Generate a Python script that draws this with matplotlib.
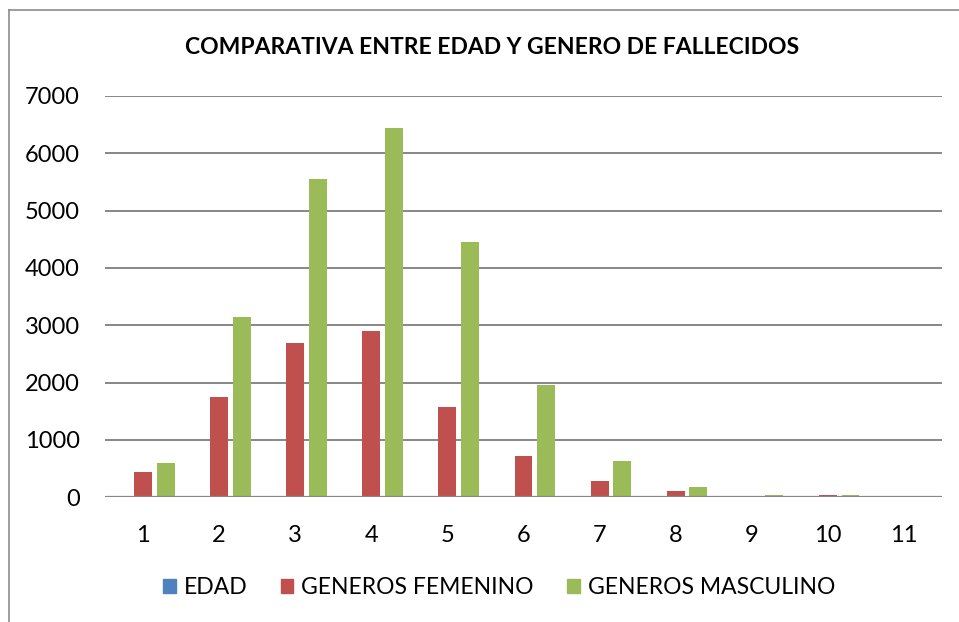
import matplotlib
matplotlib.use("Agg")
import matplotlib.pyplot as plt
from matplotlib.lines import Line2D
import numpy as np

categories = ["1", "2", "3", "4", "5", "6", "7", "8", "9", "10", "11"]
edad = [0, 0, 0, 0, 0, 0, 0, 0, 0, 0, 0]
femenino = [447, 1744, 2686, 2895, 1570, 720, 280, 105, 5, 35, 0]
masculino = [598, 3140, 5547, 6436, 4450, 1960, 633, 175, 35, 35, 0]
series_names = ["EDAD", "GENEROS FEMENINO", "GENEROS MASCULINO"]
yticks = [0, 1000, 2000, 3000, 4000, 5000, 6000, 7000]

plt.rcParams['font.family'] = ['Lato', 'DejaVu Sans']

W, H = 959, 622
fig = plt.figure(figsize=(W / 100, H / 100), dpi=100)
ax = fig.add_axes([105 / W, 1 - 497.3 / H, (942 - 105) / W, (497.3 - 96) / H])

colors = ["#4F81BD", "#C0504D", "#9BBB59"]
x = np.arange(len(categories))
step = 0.297
width = 0.235
for i, (vals, name, c) in enumerate(zip([edad, femenino, masculino], series_names, colors)):
    ax.bar(x + (i - 1) * step, vals, width, color=c, label=name, zorder=3)

ax.set_xlim(-0.5, len(categories) - 0.5)
ax.set_ylim(0, 7000)
ax.set_yticks(yticks)
ax.set_yticklabels([str(v) for v in yticks], fontsize=17)
ax.set_xticks(x)
ax.set_xticklabels(categories, fontsize=17)
ax.tick_params(axis='both', length=0, colors='black')
ax.tick_params(axis='y', pad=18)
ax.tick_params(axis='x', pad=20)
for s in ax.spines.values():
    s.set_visible(False)
ax.grid(axis='y', color='#878787', linewidth=1.4, zorder=1)
ax.set_axisbelow(True)
ax.axhline(0, color='#878787', linewidth=1.6, zorder=4)

fig.text(492 / W, 1 - 48 / H, "COMPARATIVA ENTRE EDAD Y GENERO DE FALLECIDOS",
         ha='center', va='center', fontsize=16.5, fontweight='bold')

handles = [plt.Rectangle((0, 0), 1, 1, color=c) for c in colors]
fig.legend(handles, series_names, loc='center', bbox_to_anchor=(499 / W, 1 - 588 / H),
           ncol=3, frameon=False, fontsize=16.5, handlelength=0.55, handleheight=0.55,
           handletextpad=0.35, columnspacing=1.45)

fig.add_artist(Line2D([9 / W, 9 / W], [0, 1 - 10 / H], color='#8C8C8C', linewidth=1.2, transform=fig.transFigure))
fig.add_artist(Line2D([9 / W, 1], [1 - 10 / H, 1 - 10 / H], color='#8C8C8C', linewidth=1.2, transform=fig.transFigure))

fig.savefig("out.png", dpi=100)
